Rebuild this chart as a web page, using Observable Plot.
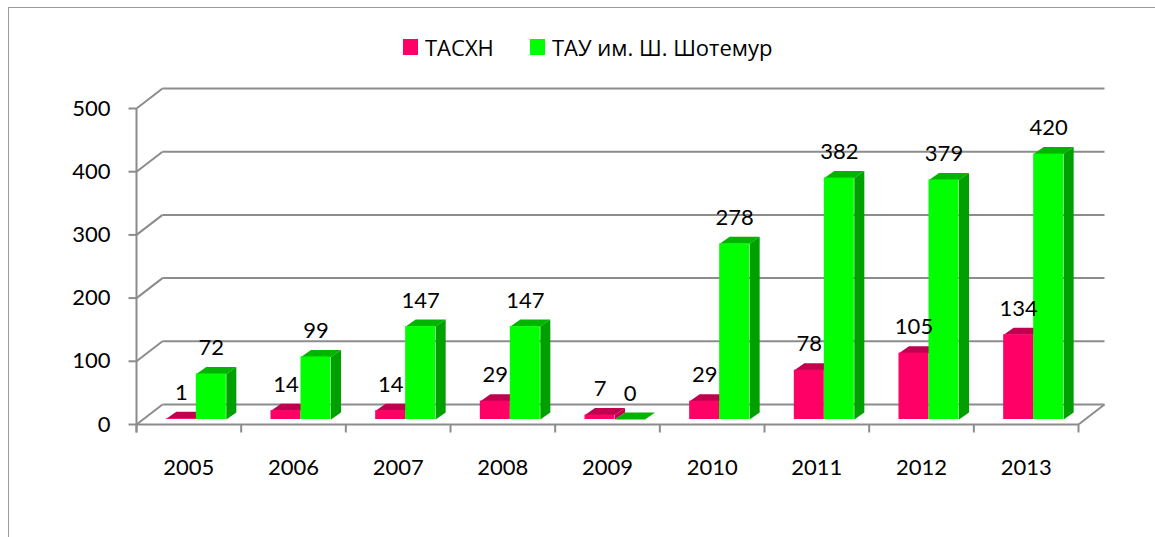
<!DOCTYPE html>
<html>
<head>
<meta charset="utf-8">
<script src="https://cdn.jsdelivr.net/npm/d3@7"></script>
<script src="https://cdn.jsdelivr.net/npm/@observablehq/plot@0.6"></script>
<style>
  html, body { margin: 0; padding: 0; background: #fff; }
  #wrap { position: relative; width: 1155px; height: 537px; overflow: hidden; font-family: Lato, "Open Sans", sans-serif; }
  #frame { position: absolute; left: 8px; top: 7px; width: 1200px; height: 600px; border-top: 1.5px solid #9a9a9a; border-left: 1.5px solid #9a9a9a; }
  #chart { position: absolute; left: 0; top: 0; }
  .leg { position: absolute; top: 35px; font-family: "Open Sans", Lato, sans-serif; font-size: 22px; color: #000; display: flex; align-items: center; white-space: nowrap; line-height: 24px; }
  .sw { width: 15px; height: 16px; margin-right: 7px; }
</style>
</head>
<body>
<div id="wrap">
  <div id="frame"></div>
  <div id="chart"></div>
  <div id="legend"></div>
</div>
<script>
// ---- data ----
const years = ["2005", "2006", "2007", "2008", "2009", "2010", "2011", "2012", "2013"];
const tasxn = [1, 14, 14, 29, 7, 29, 78, 105, 134];
const tau = [72, 99, 147, 147, 0, 278, 382, 379, 420];
const seriesNames = ["ТАСХН", "ТАУ им. Ш. Шотемур"];
const yTicks = [0, 100, 200, 300, 400, 500];

// ---- styling / geometry (pixels) ----
const colors = {
  front: ["#FF0066", "#00FF00"],
  top: ["#C0004E", "#00B400"],
  side: ["#C0004E", "#00A000"]
};
const W = 1155, H = 537;
const M = {left: 136, right: 77, top: 108, bottom: 113};
const pxX = (W - M.left - M.right) / years.length;   // px per category
const pxY = (H - M.top - M.bottom) / 500;            // px per unit
const ux = px => px / pxX, uy = px => px / pxY;
const wallDX = ux(26), wallDY = uy(20);
const barOffX = ux(7.5), barOffY = uy(5);
const depthX = ux(10), depthY = uy(7);
const barW = ux(30);
const grid = "#8c8c8c";

// ---- derived rows ----
const series = [tasxn, tau];
const rows = years.flatMap((yr, i) => series.map((vals, s) => {
  const x1 = i + 0.5 + barOffX + (s - 1) * barW;
  return {i, s, yr, v: vals[i], x1, x2: x1 + barW, y0: barOffY, yv: vals[i] + barOffY};
}));
const poly = (face) => rows.flatMap(r => {
  const pts = face === "side"
    ? [[r.x2, r.y0], [r.x2, r.yv], [r.x2 + depthX, r.yv + depthY], [r.x2 + depthX, r.y0 + depthY]]
    : [[r.x1, r.yv], [r.x2, r.yv], [r.x2 + depthX, r.yv + depthY], [r.x1 + depthX, r.yv + depthY]];
  return pts.map(([x, y]) => ({id: face + r.i + "-" + r.s, s: r.s, x, y}));
});
const sidePts = poly("side"), topPts = poly("top");

const barMarks = [0, 1].flatMap(s => [
  Plot.line(topPts.filter(p => p.s === s), {x: "x", y: "y", z: "id", fill: colors.top[s], stroke: "none"}),
  Plot.line(sidePts.filter(p => p.s === s), {x: "x", y: "y", z: "id", fill: colors.side[s], stroke: "none"}),
  Plot.rect(rows.filter(r => r.s === s), {x1: "x1", x2: "x2", y1: "y0", y2: "yv", fill: colors.front[s]})
]);

const chart = Plot.plot({
  width: W, height: H,
  marginLeft: M.left, marginRight: M.right, marginTop: M.top, marginBottom: M.bottom,
  x: {type: "linear", domain: [0, years.length], axis: null},
  y: {type: "linear", domain: [0, 500], axis: null},
  style: {background: "transparent", fontFamily: "Lato, 'Open Sans', sans-serif", fontSize: "22px", color: "#000", overflow: "visible"},
  marks: [
    // back wall gridlines
    Plot.link(yTicks, {x1: wallDX, x2: years.length + wallDX, y1: d => d + wallDY, y2: d => d + wallDY, stroke: grid, strokeWidth: 2}),
    // side wall diagonals
    Plot.link(yTicks, {x1: 0, y1: d => d, x2: wallDX, y2: d => d + wallDY, stroke: grid, strokeWidth: 2}),
    // floor front edge and right edge
    Plot.link([0], {x1: 0, x2: years.length, y1: 0, y2: 0, stroke: grid, strokeWidth: 2}),
    Plot.link([0], {x1: years.length, y1: 0, x2: years.length + wallDX, y2: wallDY, stroke: grid, strokeWidth: 2}),
    // y axis line and ticks
    Plot.link([0], {x1: 0, x2: 0, y1: 500, y2: -uy(8), stroke: grid, strokeWidth: 2}),
    Plot.link(yTicks, {x1: -ux(8), x2: 0, y1: d => d, y2: d => d, stroke: grid, strokeWidth: 2}),
    Plot.text(yTicks, {x: 0, y: d => d, text: d => String(d), dx: -26, textAnchor: "end", fill: "#000"}),
    // x ticks and labels
    Plot.link(d3.range(years.length + 1), {x1: d => d, x2: d => d, y1: 0, y2: -uy(8), stroke: grid, strokeWidth: 2}),
    Plot.text(years, {x: (d, i) => i + 0.5, y: 0, text: d => d, dy: 43, fill: "#000"}),
    // bars
    ...barMarks,
    // value labels
    Plot.text(rows, {x: r => (r.x1 + r.x2) / 2, y: "yv", text: r => String(r.v), dy: -26, fill: "#000"})
  ]
});
document.getElementById("chart").appendChild(chart);

// legend
const legPos = [403, 530];
const leg = document.getElementById("legend");
seriesNames.forEach((name, s) => {
  const d = document.createElement("div");
  d.className = "leg";
  d.style.left = legPos[s] + "px";
  d.innerHTML = `<span class="sw" style="background:${colors.front[s]}"></span><span>${name}</span>`;
  leg.appendChild(d);
});
</script>
</body>
</html>
